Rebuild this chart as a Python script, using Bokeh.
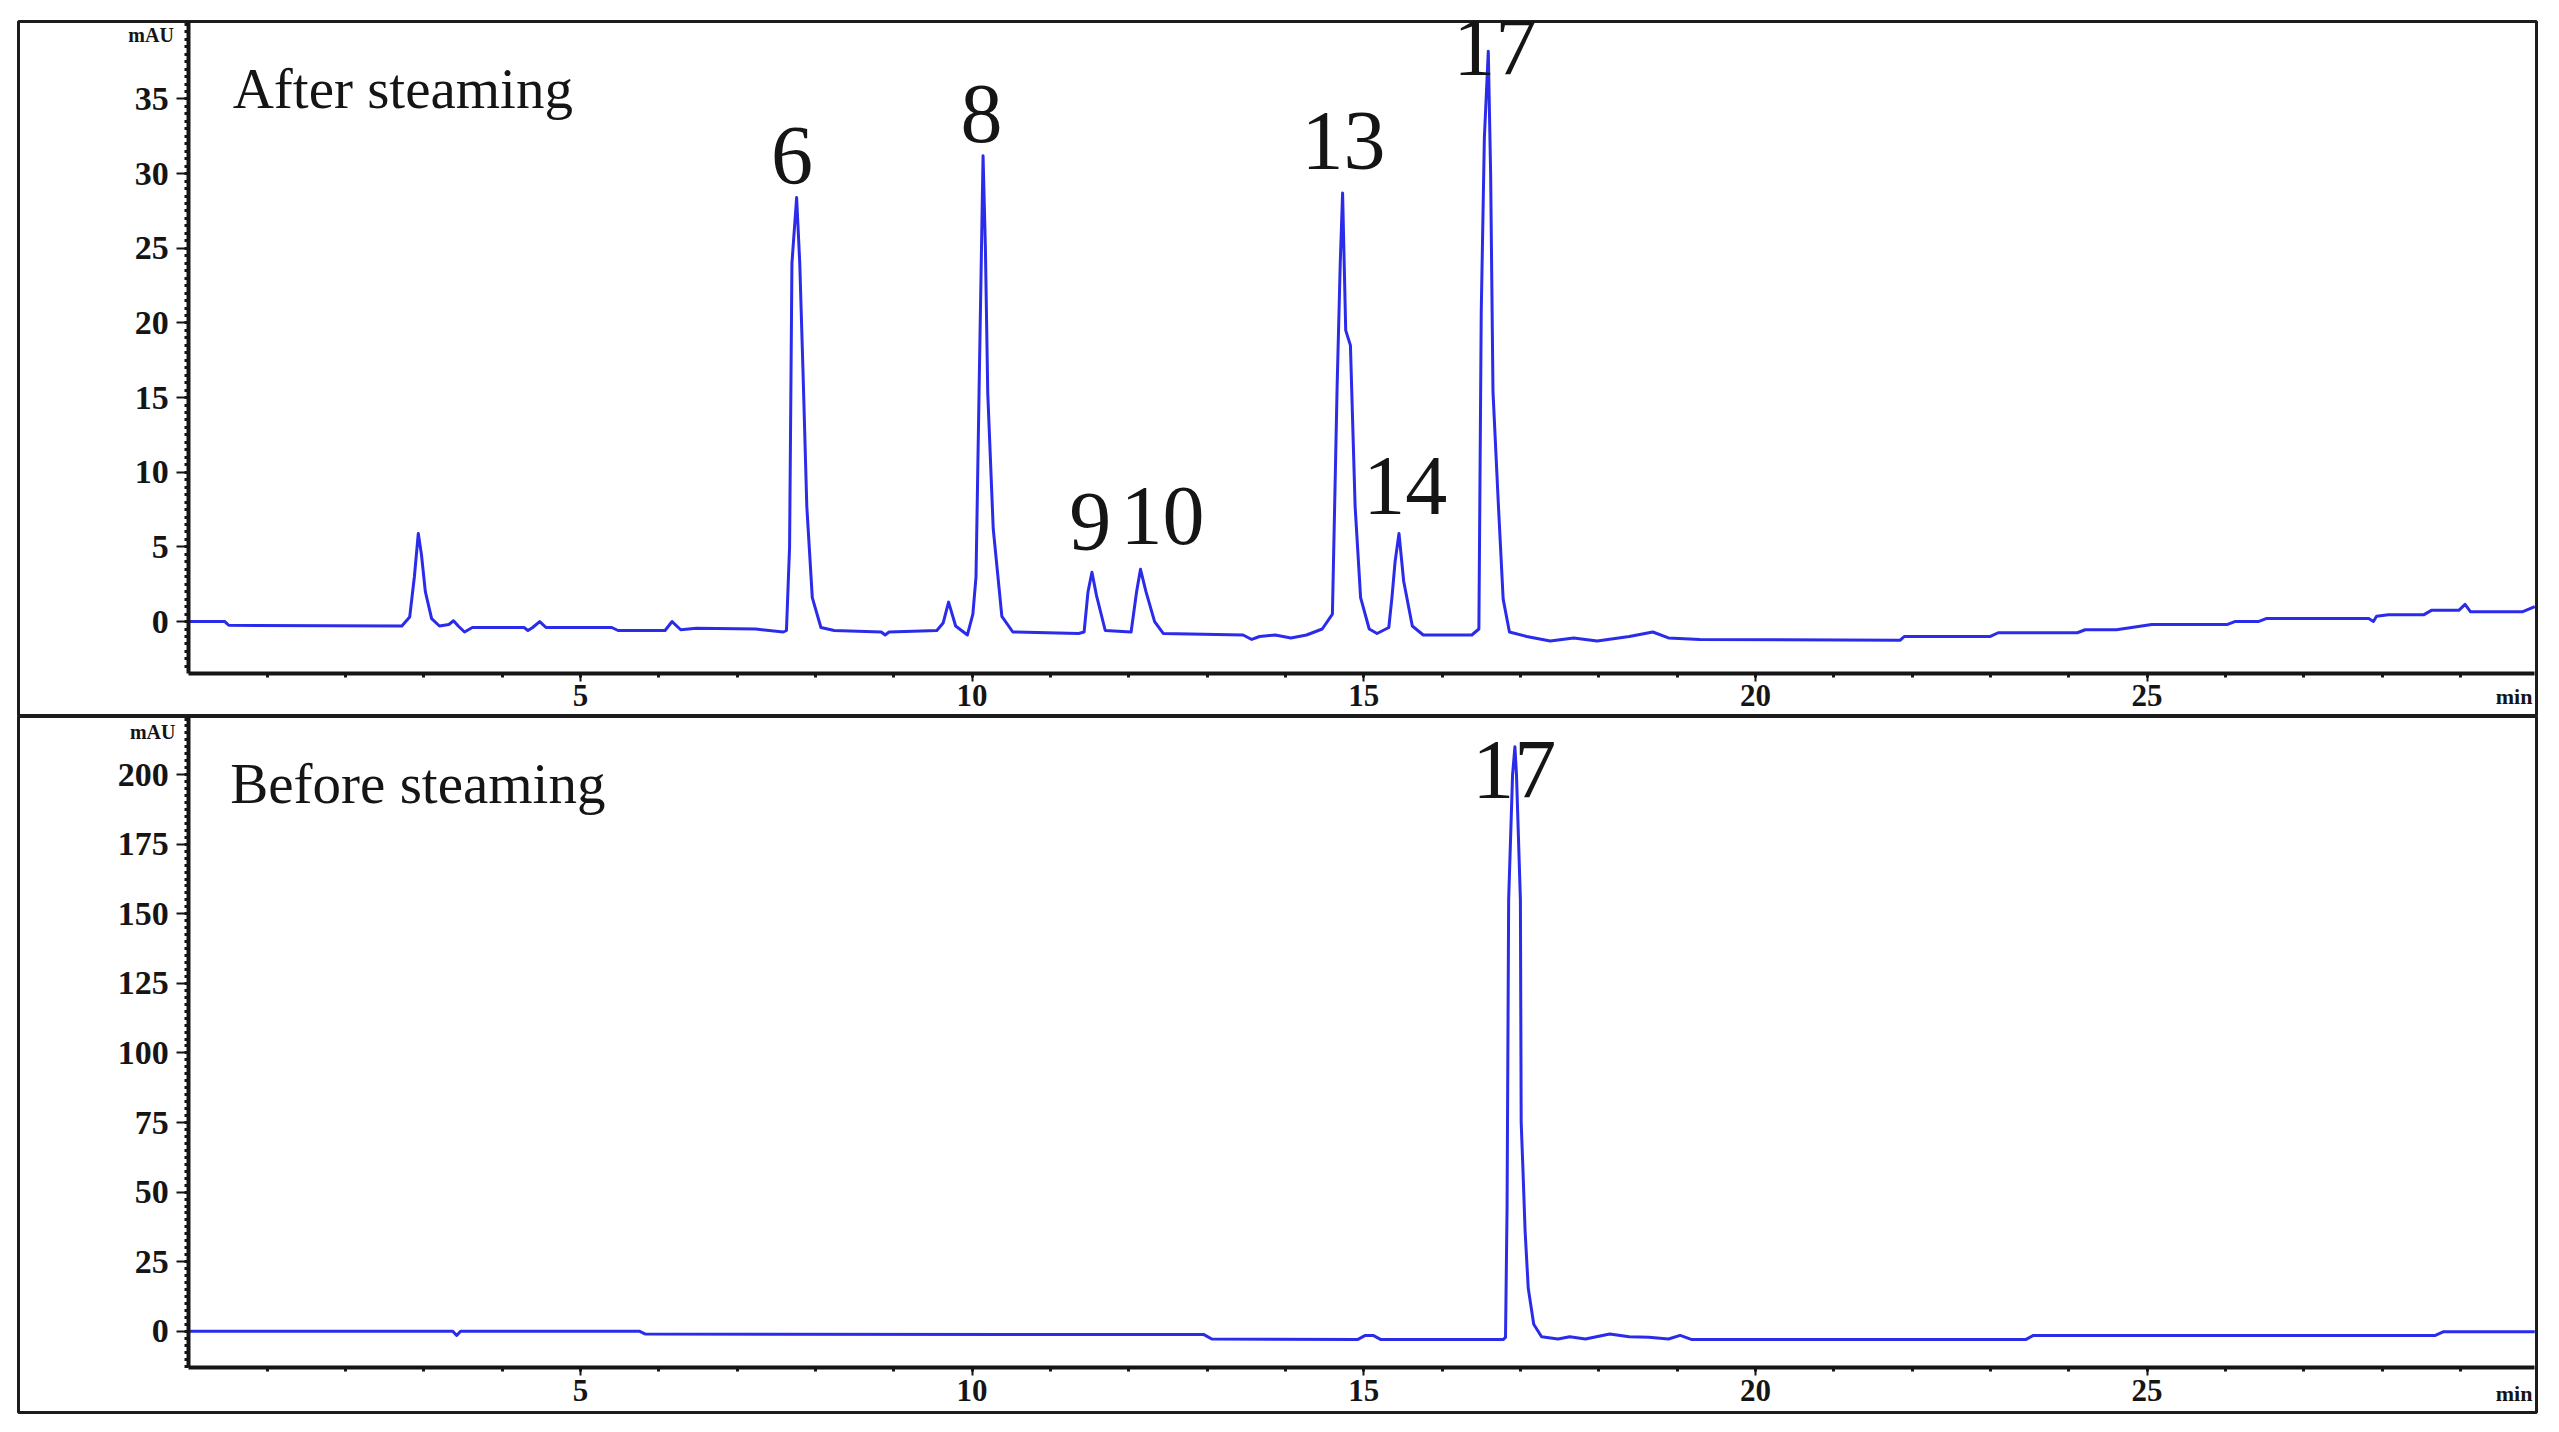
from bokeh.plotting import figure
from bokeh.layouts import column
from bokeh.models import Range1d, FixedTicker
from bokeh.embed import file_html
from bokeh.resources import INLINE
from bokeh.core.properties import value

# ---------------- data ----------------
x_start, x_end = 0.0, 29.95
x_major = [5, 10, 15, 20, 25]
x_minor = [m for m in range(1, 30)]

# After steaming trace: retention time (min) / absorbance (mAU)
after_t = [0.00, 0.46, 0.51, 2.72, 2.82, 2.88, 2.93, 2.97, 3.02, 3.10, 3.20, 3.32, 3.38, 3.44,
           3.52, 3.62, 4.28, 4.33, 4.39, 4.48, 4.56, 5.40, 5.48, 6.08, 6.17, 6.28, 6.48, 7.24,
           7.59, 7.63, 7.67, 7.70, 7.76, 7.80, 7.84, 7.89, 7.96, 8.07, 8.24, 8.84, 8.89, 8.94,
           9.55, 9.63, 9.70, 9.79, 9.94, 10.01, 10.05, 10.09, 10.14, 10.17, 10.20, 10.27, 10.38,
           10.52, 11.36, 11.43, 11.48, 11.53, 11.59, 11.70, 12.03, 12.10, 12.15, 12.22, 12.33,
           12.44, 13.46, 13.57, 13.67, 13.87, 14.07, 14.27, 14.47, 14.60, 14.66, 14.70, 14.73,
           14.77, 14.83, 14.89, 14.96, 15.07, 15.17, 15.32, 15.36, 15.40, 15.45, 15.51, 15.62,
           15.76, 16.38, 16.47, 16.50, 16.54, 16.59, 16.62, 16.65, 16.72, 16.78, 16.86, 17.08,
           17.38, 17.68, 17.98, 18.39, 18.69, 18.89, 19.29, 21.85, 21.90, 23.00, 23.10, 24.11,
           24.21, 24.61, 25.06, 26.02, 26.12, 26.42, 26.52, 27.83, 27.89, 27.93, 28.08, 28.53,
           28.63, 28.98, 29.06, 29.13, 29.79, 29.95]
after_mau = [0.0, 0.0, -0.25, -0.3, 0.3, 3.0, 5.9, 4.5, 2.0, 0.2, -0.3, -0.2, 0.05, -0.3,
             -0.7, -0.4, -0.4, -0.6, -0.4, 0.0, -0.4, -0.4, -0.6, -0.6, 0.0, -0.55, -0.45, -0.5,
             -0.7, -0.6, 5.0, 24.0, 28.4, 24.0, 17.0, 7.7, 1.6, -0.4, -0.6, -0.7, -0.9, -0.7,
             -0.6, -0.1, 1.3, -0.3, -0.9, 0.5, 3.0, 15.7, 31.2, 25.0, 15.3, 6.2, 0.35,
             -0.7, -0.8, -0.7, 2.0, 3.3, 1.7, -0.6, -0.7, 2.0, 3.5, 2.0, 0.0,
             -0.8, -0.9, -1.2, -1.0, -0.9, -1.1, -0.9, -0.5, 0.5, 15.7, 24.0, 28.7,
             19.5, 18.5, 7.7, 1.6, -0.5, -0.8, -0.4, 1.6, 4.0, 5.9, 2.7, -0.3,
             -0.9, -0.9, -0.5, 20.7, 32.4, 38.2, 30.0, 15.4, 7.7, 1.5, -0.7, -1.0,
             -1.3, -1.1, -1.3, -1.0, -0.7, -1.1, -1.2, -1.25, -1.0, -1.0, -0.75, -0.75,
             -0.55, -0.55, -0.2, -0.2, 0.0, 0.0, 0.2, 0.2, 0.0, 0.35, 0.45, 0.45,
             0.75, 0.75, 1.15, 0.65, 0.65, 1.0]

# Before steaming trace
before_t = [0.00, 3.37, 3.42, 3.47, 5.75, 5.83, 12.96, 13.06, 14.92, 15.02, 15.12, 15.22,
            16.78, 16.81, 16.83, 16.85, 16.90, 16.93, 16.95, 17.00, 17.01, 17.03, 17.06,
            17.10, 17.17, 17.27, 17.48, 17.63, 17.83, 18.14, 18.39, 18.64, 18.89, 19.04,
            19.19, 23.45, 23.55, 28.68, 28.78, 29.95]
before_mau = [0.0, 0.0, -1.5, 0.0, 0.0, -1.0, -1.2, -2.8, -3.0, -1.5, -1.5, -3.0,
              -3.0, -2.2, 45.0, 155.0, 200.0, 210.0, 200.0, 155.0, 75.0, 60.0, 36.0,
              15.5, 2.5, -2.0, -2.8, -2.0, -2.8, -1.0, -2.0, -2.2, -2.8, -1.5,
              -3.0, -3.0, -1.5, -1.5, -0.2, -0.2]

# peak labels (anchor positions of the label text)
after_label_text = ["6", "8", "9", "10", "13", "14", "17"]
after_label_t = [7.70, 10.12, 11.51, 12.43, 14.74, 15.53, 16.68]
after_label_mau = [31.2, 34.0, 6.7, 7.1, 32.2, 9.1, 38.5]
before_label_text = ["17"]
before_label_t = [16.92]
before_label_mau = [201.5]

panel_titles = ["After steaming", "Before steaming"]
title_t = [0.56, 0.53]
title_mau = [35.7, 197.0]

unit_y = "mAU"
unit_x = "min"

# value axis extents and ticks of each panel
after_axis = (-3.45, 40.19)
before_axis = (-13.2, 220.9)
after_major = [0, 5, 10, 15, 20, 25, 30, 35]
after_minor = [k * 0.5 for k in range(-6, 81)]
before_major = [0, 25, 50, 75, 100, 125, 150, 175, 200]
before_minor = [k * 2.5 for k in range(-5, 89)]

# ---------------- geometry / styling ----------------
# the plotting area covers each whole panel; the axes sit at fixed data locations
after_view = dict(x=(-2.174, 29.972), y=(-6.36, 40.19))
before_view = dict(x=(-2.174, 29.972), y=(-29.2, 220.9))
after_text_pos = dict(unit_y=(-0.19, 39.3), unit_x=(29.92, -5.0))
before_text_pos = dict(unit_y=(-0.17, 215.5), unit_x=(29.92, -22.4))

LINE = "#2b2bea"
INK = "#151515"
SERIF = "Liberation Serif"
CANVAS_W = 2538


def make_panel(t, mau, view, axis_ext, major, minor, lab_t, lab_y, lab_txt,
               title, ttl_t, ttl_y, tpos, height, borders):
    p = figure(width=CANVAS_W, height=height,
               x_range=Range1d(*view["x"]), y_range=Range1d(*view["y"]),
               output_backend="svg", toolbar_location=None,
               min_border_left=borders[0], min_border_right=borders[1],
               min_border_top=borders[2], min_border_bottom=borders[3])
    p.background_fill_color = "white"
    p.border_fill_color = "white"
    p.outline_line_color = "#1c1c1c"
    p.outline_line_width = 3
    p.grid.visible = False

    p.line(t, mau, line_color=LINE, line_width=3, line_join="round")

    p.text(x=lab_t, y=lab_y, text=lab_txt, text_align="center",
           text_baseline="alphabetic", text_font=value(SERIF),
           text_font_size="84px", text_color=INK)
    p.text(x=[ttl_t], y=[ttl_y], text=[title], text_align="left",
           text_baseline="alphabetic", text_font=value(SERIF),
           text_font_size="57px", text_color=INK)
    p.text(x=[tpos["unit_y"][0]], y=[tpos["unit_y"][1]], text=[unit_y],
           text_align="right", text_baseline="alphabetic", text_font=value(SERIF),
           text_font_style="bold", text_font_size="20px", text_color=INK)
    p.text(x=[tpos["unit_x"][0]], y=[tpos["unit_x"][1]], text=[unit_x],
           text_align="right", text_baseline="alphabetic", text_font=value(SERIF),
           text_font_style="bold", text_font_size="22px", text_color=INK)

    xa = p.xaxis[0]
    xa.ticker = FixedTicker(ticks=x_major, minor_ticks=x_minor)
    xa.fixed_location = axis_ext[0]
    xa.bounds = (x_start, x_end)
    ya = p.yaxis[0]
    ya.ticker = FixedTicker(ticks=major, minor_ticks=minor)
    ya.fixed_location = x_start
    ya.bounds = axis_ext
    for ax in (xa, ya):
        ax.axis_line_width = 4
        ax.axis_line_color = INK
        ax.major_tick_line_color = INK
        ax.major_tick_line_width = 2
        ax.minor_tick_line_color = INK
        ax.minor_tick_line_width = 3
        ax.major_tick_in = 0
        ax.minor_tick_in = 0
        ax.major_label_text_font = SERIF
        ax.major_label_text_font_style = "bold"
        ax.major_label_text_color = INK
    xa.major_tick_out = 8
    xa.minor_tick_out = 4
    xa.major_label_standoff = 4
    xa.major_label_text_font_size = "31px"
    ya.major_tick_out = 12
    ya.minor_tick_out = 4
    ya.major_label_standoff = 8
    ya.major_label_text_font_size = "34px"
    return p


# borders: left, right, top, bottom (pixels around the framed panel, page has no margin)
p1 = make_panel(after_t, after_mau, after_view, after_axis, after_major, after_minor,
                after_label_t, after_label_mau, after_label_text,
                panel_titles[0], title_t[0], title_mau[0], after_text_pos,
                716, (18, 2, 21, 0))
p2 = make_panel(before_t, before_mau, before_view, before_axis, before_major, before_minor,
                before_label_t, before_label_mau, before_label_text,
                panel_titles[1], title_t[1], title_mau[1], before_text_pos,
                700, (18, 2, 0, 4))

layout = column(p1, p2, spacing=0)

open("out.html", "w").write(file_html(layout, INLINE))
